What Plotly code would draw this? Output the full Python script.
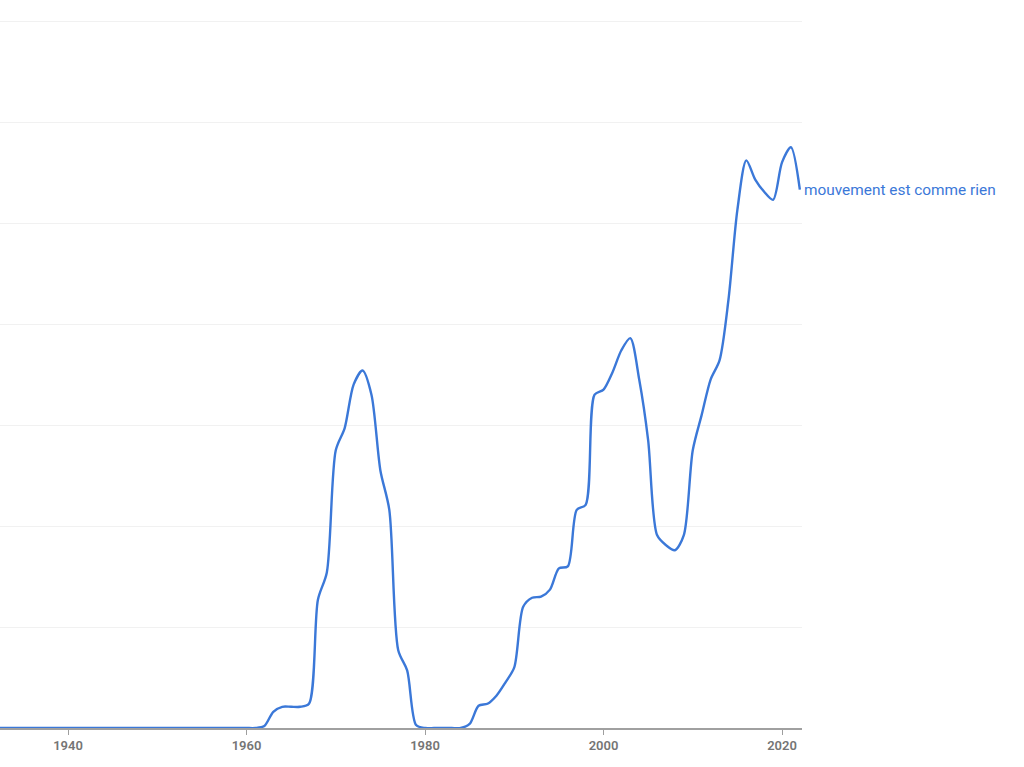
import plotly.graph_objects as go

years = list(range(1930, 2023))
values = [0.0] * 32 + [
    0.02, 0.16, 0.21, 0.21, 0.21, 0.24,             # 1962-1967
    1.27, 1.54, 2.75, 2.97, 3.40, 3.54, 3.30,       # 1968-1974
    2.55, 2.16, 0.77, 0.57, 0.03, 0.0,              # 1975-1980
    0.0, 0.0, 0.0, 0.0,                             # 1981-1984
    0.04, 0.22, 0.24, 0.32, 0.45, 0.60,             # 1985-1990
    1.20, 1.29, 1.30, 1.37, 1.58, 1.60, 2.16, 2.21, # 1991-1998
    3.30, 3.35, 3.52, 3.74, 3.86, 3.45, 2.85,       # 1999-2005
    1.91, 1.81, 1.76, 1.91, 2.75, 3.10, 3.45,       # 2006-2012
    3.64, 4.24, 5.13, 5.62, 5.43, 5.31, 5.23,       # 2013-2019
    5.60, 5.75, 5.33,                               # 2020-2022
]
series_name = "mouvement est comme rien"
tick_years = [1940, 1960, 1980, 2000, 2020]
line_color = "#3b78d8"

fig = go.Figure()
fig.add_trace(go.Scatter(
    x=years, y=values, mode="lines",
    line=dict(color=line_color, width=2.4, shape="spline", smoothing=0.8),
    name=series_name, showlegend=False, hoverinfo="skip",
))

fig.add_annotation(
    x=years[-1], y=values[-1], xref="x", yref="y",
    text=series_name, showarrow=False, xanchor="left", yanchor="middle",
    xshift=2, font=dict(family="Roboto", size=15.4, color=line_color),
)

fig.update_layout(
    width=1024, height=767,
    margin=dict(l=0, r=222, t=20, b=39),
    paper_bgcolor="white", plot_bgcolor="white",
    font=dict(family="Roboto"),
    xaxis=dict(
        range=[1932.38, 2022.24],
        tickvals=tick_years,
        ticktext=[str(t) for t in tick_years],
        ticks="outside", ticklen=5, tickcolor="#9e9e9e", tickwidth=1,
        tickfont=dict(family="Roboto", size=13, color="#757575", weight=600),
        showgrid=False, zeroline=False,
        showline=True, linecolor="#a0a0a0", linewidth=1.5,
    ),
    yaxis=dict(
        range=[0, 7.01],
        dtick=1, showticklabels=False,
        showgrid=True, gridcolor="#f1f1f1", gridwidth=1,
        zeroline=False, showline=False,
    ),
)

fig.write_html("out.html", config={"displayModeBar": False},
               post_script="document.body.style.margin='0';")
